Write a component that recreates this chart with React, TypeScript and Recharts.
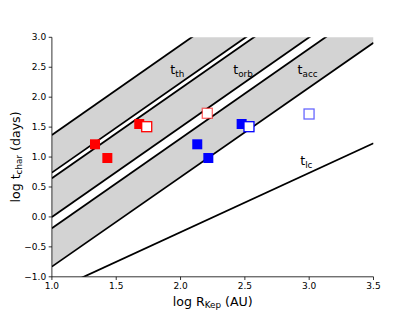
import { ComposedChart, Area, Line, Scatter, XAxis, YAxis, ReferenceDot } from 'recharts'

// line endpoints, read at log R = 1.0 and 3.5
const X_ENDS = [1.0, 3.5]
const TH_HI = [1.37, 5.12]
const TH_LO = [0.74, 4.49]
const ORB_HI = [0.645, 4.395]
const ORB_LO = [0.0, 3.75]
const ACC_HI = [-0.19, 3.56]
const ACC_LO = [-0.83, 2.91]
const LC = [-1.245, 1.23]

const RED_X = [1.335, 1.431, 1.679]
const RED_Y = [1.213, 0.984, 1.552]
const RED_OPEN_X = [1.737]
const RED_OPEN_Y = [1.507]
const RED_PALE_X = [2.208]
const RED_PALE_Y = [1.731]
const BLUE_X = [2.13, 2.216, 2.475]
const BLUE_Y = [1.213, 0.984, 1.552]
const BLUE_OPEN_X = [2.532]
const BLUE_OPEN_Y = [1.507]
const BLUE_PALE_X = [2.999]
const BLUE_PALE_Y = [1.719]

const X_TICKS = [1.0, 1.5, 2.0, 2.5, 3.0, 3.5]
const Y_TICKS = [-1.0, -0.5, 0.0, 0.5, 1.0, 1.5, 2.0, 2.5, 3.0]

const LABELS = [
  { x: 1.92, y: 2.38, main: 't', sub: 'th' },
  { x: 2.41, y: 2.38, main: 't', sub: 'orb' },
  { x: 2.91, y: 2.38, main: 't', sub: 'acc' },
  { x: 2.93, y: 0.86, main: 't', sub: 'lc' },
]

const lines = X_ENDS.map((x, i) => ({
  x,
  thHi: TH_HI[i], thLo: TH_LO[i],
  orbHi: ORB_HI[i], orbLo: ORB_LO[i],
  accHi: ACC_HI[i], accLo: ACC_LO[i],
  lc: LC[i],
}))

const pts = (xs: number[], ys: number[]) => xs.map((x, i) => ({ x, y: ys[i] }))

const fmt = (v: number) => v.toFixed(1).replace('-', '\u2212')

const FONT = 'DejaVu Sans'
const GRAY = '#d3d3d3'

const square = (fill: string, stroke: string, strokeOpacity = 1) => (p: any) => (
  <rect x={p.cx - 5} y={p.cy - 5} width={10} height={10} fill={fill}
    stroke={stroke} strokeWidth={stroke === 'none' ? 0 : 1.3} strokeOpacity={strokeOpacity} />
)

const lineProps = { type: 'linear' as const, stroke: '#000', strokeWidth: 1.8, dot: false, isAnimationActive: false, activeDot: false }

export default function App() {
  return (
    <div style={{ position: 'absolute', left: 0, top: 0, background: '#fff' }}>
      <ComposedChart width={415} height={311} data={lines}
        margin={{ top: 37.3, right: 41.5, bottom: 0, left: 0 }}
        style={{ fontFamily: FONT }}>
        <XAxis dataKey="x" type="number" domain={[1, 3.5]} ticks={X_TICKS} allowDataOverflow
          tickFormatter={fmt} height={34.2} tickSize={3.2} tickMargin={2.5}
          axisLine={{ stroke: '#000', strokeWidth: 0.8 }} tickLine={{ stroke: '#000', strokeWidth: 0.8 }}
          tick={{ fill: '#000', fontSize: 9, fontFamily: FONT }}
          label={{
            content: (p: any) => {
              const vb = p.viewBox
              return (
                <text x={vb.x + vb.width / 2} y={vb.y + 29} textAnchor="middle" fontSize={12.6} fontFamily={FONT} fill="#000">
                  <tspan>log R</tspan>
                  <tspan fontSize={8.8} dy={2.6}>Kep</tspan>
                  <tspan dy={-2.6}> (AU)</tspan>
                </text>
              )
            },
          }} />
        <XAxis xAxisId="top" orientation="top" type="number" domain={[1, 3.5]} allowDataOverflow
          height={0} tick={false} tickLine={false} axisLine={{ stroke: '#000', strokeWidth: 0.8 }} />
        <YAxis type="number" domain={[-1, 3]} ticks={Y_TICKS} allowDataOverflow
          tickFormatter={fmt} width={51.9} tickSize={3.2} tickMargin={2.5}
          axisLine={{ stroke: '#000', strokeWidth: 0.8 }} tickLine={{ stroke: '#000', strokeWidth: 0.8 }}
          tick={{ fill: '#000', fontSize: 9, fontFamily: FONT }}
          label={{
            content: () => (
              <text transform="translate(19.5,157) rotate(-90)" textAnchor="middle" fontSize={12.6} fontFamily={FONT} fill="#000">
                <tspan>log t</tspan>
                <tspan fontSize={8.8} dy={2.6}>char</tspan>
                <tspan dy={-2.6}> (days)</tspan>
              </text>
            ),
          }} />
        <YAxis yAxisId="right" orientation="right" type="number" domain={[-1, 3]} allowDataOverflow
          width={0} tick={false} tickLine={false} axisLine={{ stroke: '#000', strokeWidth: 0.8 }} />

        <Area type="linear" dataKey={(d: any) => [d.thLo, d.thHi]} fill={GRAY} fillOpacity={1} stroke="none" isAnimationActive={false} activeDot={false} />
        <Area type="linear" dataKey={(d: any) => [d.orbLo, d.orbHi]} fill={GRAY} fillOpacity={1} stroke="none" isAnimationActive={false} activeDot={false} />
        <Area type="linear" dataKey={(d: any) => [d.accLo, d.accHi]} fill={GRAY} fillOpacity={1} stroke="none" isAnimationActive={false} activeDot={false} />

        <Line dataKey="thHi" {...lineProps} />
        <Line dataKey="thLo" {...lineProps} />
        <Line dataKey="orbHi" {...lineProps} />
        <Line dataKey="orbLo" {...lineProps} />
        <Line dataKey="accHi" {...lineProps} />
        <Line dataKey="accLo" {...lineProps} />
        <Line dataKey="lc" {...lineProps} />

        <Scatter data={pts(RED_X, RED_Y)} dataKey="y" shape={square('#ff0000', 'none')} isAnimationActive={false} />
        <Scatter data={pts(RED_OPEN_X, RED_OPEN_Y)} dataKey="y" shape={square('#fff', '#ff0000')} isAnimationActive={false} />
        <Scatter data={pts(RED_PALE_X, RED_PALE_Y)} dataKey="y" shape={square('#fff', '#ff0000', 0.6)} isAnimationActive={false} />
        <Scatter data={pts(BLUE_X, BLUE_Y)} dataKey="y" shape={square('#0000ff', 'none')} isAnimationActive={false} />
        <Scatter data={pts(BLUE_OPEN_X, BLUE_OPEN_Y)} dataKey="y" shape={square('#fff', '#0000ff')} isAnimationActive={false} />
        <Scatter data={pts(BLUE_PALE_X, BLUE_PALE_Y)} dataKey="y" shape={square('#fff', '#0000ff', 0.6)} isAnimationActive={false} />

        {LABELS.map((l) => (
          <ReferenceDot key={l.sub} x={l.x} y={l.y} r={0}
            shape={(p: any) => (
              <text x={p.cx} y={p.cy} fontSize={12.6} fontFamily={FONT} fill="#000">
                <tspan>{l.main}</tspan>
                <tspan fontSize={8.8} dy={2.6}>{l.sub}</tspan>
              </text>
            )} />
        ))}
      </ComposedChart>
    </div>
  )
}
